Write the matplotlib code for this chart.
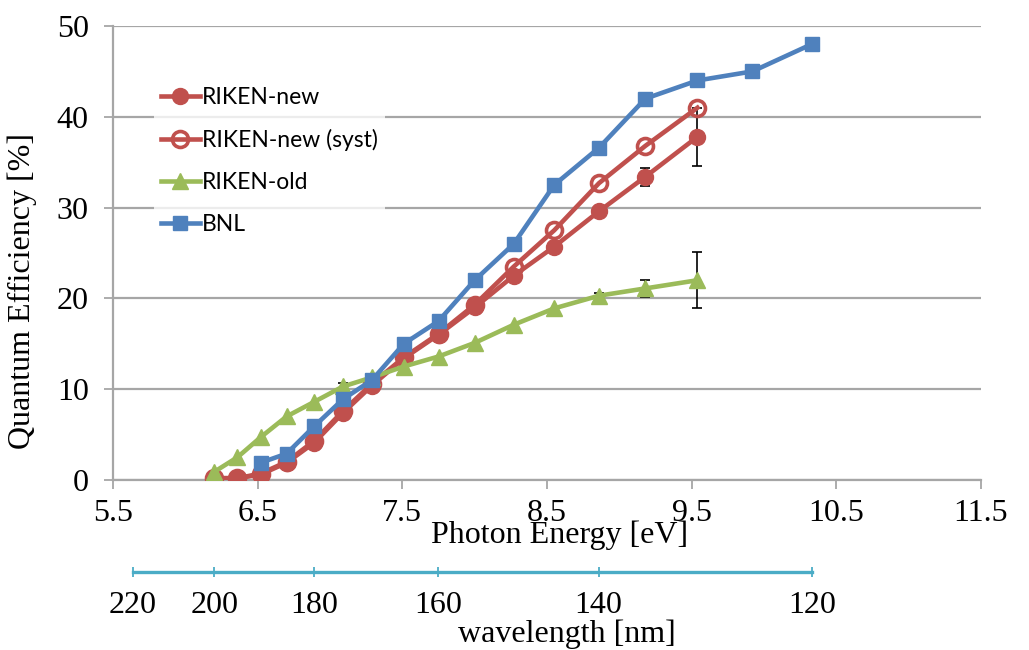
import numpy as np
import matplotlib
matplotlib.use("Agg")
import matplotlib.pyplot as plt
from matplotlib.ticker import FixedLocator

# ---------------- data ----------------
energy_riken = [6.20, 6.36, 6.52, 6.70, 6.89, 7.09, 7.29, 7.51, 7.75, 8.00, 8.27, 8.55, 8.86, 9.18, 9.54]
qe_riken_new = [0.2, 0.2, 0.6, 1.9, 4.1, 7.4, 10.4, 13.4, 16.0, 19.0, 22.5, 25.7, 29.6, 33.4, 37.8]
err_riken_new = [0, 0, 0, 0, 0, 0, 0, 0, 0, 0, 0, 0, 0, 1.0, 3.2]
qe_riken_syst = [0.2, 0.2, 0.7, 2.0, 4.3, 7.6, 10.6, 13.5, 16.1, 19.3, 23.5, 27.5, 32.7, 36.8, 41.0]
qe_riken_old = [0.9, 2.5, 4.7, 7.0, 8.6, 10.3, 11.3, 12.5, 13.6, 15.1, 17.1, 18.9, 20.3, 21.1, 22.0]
err_riken_old = [0, 0, 0, 0, 0, 0.35, 0, 0, 0, 0, 0, 0, 0.3, 0.9, 3.1]
energy_bnl = [6.52, 6.70, 6.89, 7.09, 7.29, 7.51, 7.75, 8.00, 8.27, 8.55, 8.86, 9.18, 9.54, 9.92, 10.33]
qe_bnl = [1.9, 2.9, 5.9, 8.9, 11.0, 15.0, 17.5, 22.0, 26.0, 32.5, 36.6, 42.0, 44.0, 45.0, 48.0]

labels = ["RIKEN-new", "RIKEN-new (syst)", "RIKEN-old", "BNL"]
x_ticks = [5.5, 6.5, 7.5, 8.5, 9.5, 10.5, 11.5]
y_ticks = [0, 10, 20, 30, 40, 50]
wl_ticks = [220, 200, 180, 160, 140, 120]

HC = 1239.84  # eV*nm

RED = "#C0504D"
GREEN = "#9BBB59"
BLUE = "#4F81BD"
TEAL = "#4BACC6"
GRID = "#A6A6A6"
SERIF = "Liberation Serif"
FS = 23

fig = plt.figure(figsize=(10.29, 6.5), dpi=100)
ax = fig.add_axes([113/1029, 170/650, 868/1029, 454/650])

ax.set_xlim(5.5, 11.5)
ax.set_ylim(0, 50)
ax.set_xticks(x_ticks)
ax.set_xticklabels([f"{v:g}" for v in x_ticks])
ax.set_yticks(y_ticks)
ax.set_yticklabels([str(v) for v in y_ticks])
ax.yaxis.grid(True, color=GRID, lw=1.6, zorder=0)
ax.set_axisbelow(True)
for s in ["top", "right"]:
    ax.spines[s].set_visible(False)
for s in ["left", "bottom"]:
    ax.spines[s].set_color(GRID)
    ax.spines[s].set_linewidth(1.6)
ax.tick_params(axis="both", colors=GRID, length=6.5, width=1.3, direction="out",
               labelcolor="black", labelsize=FS)
ax.tick_params(axis="x", pad=7)
ax.tick_params(axis="y", pad=11)
for t in ax.get_xticklabels() + ax.get_yticklabels():
    t.set_fontfamily(SERIF)

lw = 3.3
en_r = np.array(energy_riken)
e_new = np.array(err_riken_new)
e_old = np.array(err_riken_old)
m_new = e_new > 0
m_old = e_old > 0

ax.errorbar(en_r[m_new], np.array(qe_riken_new)[m_new], yerr=e_new[m_new], fmt="none",
            ecolor="black", elinewidth=1.2, capsize=3.5, capthick=1.2, zorder=2)
ax.errorbar(en_r[m_old], np.array(qe_riken_old)[m_old], yerr=e_old[m_old], fmt="none",
            ecolor="black", elinewidth=1.2, capsize=3.5, capthick=1.2, zorder=2)

h1, = ax.plot(energy_riken, qe_riken_new, color=RED, lw=lw, marker="o", ms=11.5,
              mfc=RED, mec=RED, zorder=3, label=labels[0])
h2, = ax.plot(energy_riken, qe_riken_syst, color=RED, lw=lw, marker="o", ms=11.5,
              mfc="none", mec=RED, mew=2.6, zorder=3, label=labels[1])
h3, = ax.plot(energy_riken, qe_riken_old, color=GREEN, lw=lw, marker="^", ms=11.5,
              mfc=GREEN, mec=GREEN, zorder=4, label=labels[2])
h4, = ax.plot(energy_bnl, qe_bnl, color=BLUE, lw=lw, marker="s", ms=10,
              mfc=BLUE, mec=BLUE, zorder=5, label=labels[3])

leg = ax.legend(handles=[h1, h2, h3, h4], loc="upper left",
                bbox_to_anchor=(41/868, (480-80)/454), frameon=True,
                prop={"family": "Lato", "size": 16.5}, handlelength=1.7,
                handletextpad=0.1, labelspacing=0.92, borderpad=0.3,
                borderaxespad=0, fancybox=False)
leg.get_frame().set_facecolor("white")
leg.get_frame().set_edgecolor("none")
leg.set_zorder(6)

ax.set_ylabel("Quantum Efficiency [%]", fontsize=FS, family=SERIF)
ax.yaxis.set_label_coords((37-113)/868, (480-291)/454)
fig.text(560/1029, (650-535)/650, "Photon Energy [eV]", fontsize=FS, family=SERIF,
         ha="center", va="center")

# secondary wavelength axis
def e2w(e):
    e = np.asarray(e, dtype=float)
    with np.errstate(divide="ignore"):
        return HC / e

sec = ax.secondary_xaxis((480-572)/454, functions=(e2w, e2w))
sec.xaxis.set_major_locator(FixedLocator(wl_ticks))
sec.set_xticklabels([str(v) for v in wl_ticks])
sec.spines["bottom"].set_color(TEAL)
sec.spines["bottom"].set_linewidth(2.4)
sec.spines["bottom"].set_bounds(max(wl_ticks), min(wl_ticks))
sec.tick_params(axis="x", colors=TEAL, direction="inout", length=7, width=1.3,
                labelcolor="black", labelsize=FS, pad=10)
for t in sec.get_xticklabels():
    t.set_fontfamily(SERIF)
fig.text(567/1029, (650-634)/650, "wavelength [nm]", fontsize=FS, family=SERIF,
         ha="center", va="center")

fig.savefig("out.png", dpi=100)
